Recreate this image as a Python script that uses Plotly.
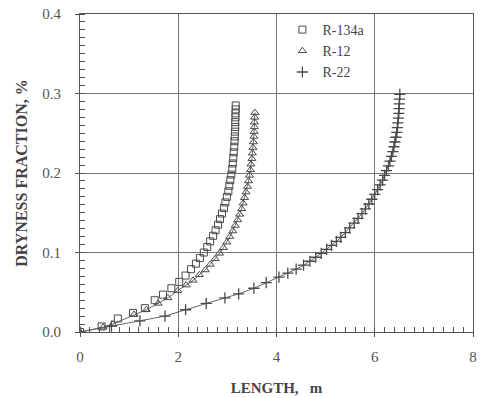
import plotly.graph_objects as go

r134a_x = [0.0, 0.44, 0.77, 1.08, 1.32, 1.52, 1.69, 1.86, 2.02, 2.15, 2.26, 2.36, 2.44, 2.52, 2.59, 2.65,
           2.71, 2.76, 2.81, 2.85, 2.89, 2.93, 2.96, 2.99, 3.02, 3.04, 3.06, 3.08, 3.10, 3.11, 3.12, 3.13,
           3.14, 3.145, 3.15, 3.155, 3.16, 3.16, 3.165, 3.165, 3.17, 3.17]
r134a_y = [0.000, 0.007, 0.017, 0.024, 0.030, 0.040, 0.047, 0.055, 0.063, 0.071, 0.079, 0.086, 0.093, 0.100,
           0.107, 0.114, 0.121, 0.128, 0.135, 0.142, 0.149, 0.156, 0.163, 0.170, 0.177, 0.184, 0.191, 0.198,
           0.205, 0.212, 0.219, 0.226, 0.233, 0.240, 0.246, 0.252, 0.258, 0.264, 0.270, 0.275, 0.280, 0.285]

r12_x = [0.0, 0.47, 0.67, 1.10, 1.35, 1.59, 1.79, 1.99, 2.16, 2.30, 2.43, 2.55, 2.65, 2.75, 2.84, 2.92,
         2.99, 3.05, 3.11, 3.16, 3.21, 3.25, 3.29, 3.32, 3.35, 3.38, 3.41, 3.43, 3.45, 3.47, 3.48, 3.50,
         3.51, 3.52, 3.53, 3.54, 3.545, 3.55, 3.55, 3.555, 3.56]
r12_y = [0.000, 0.006, 0.010, 0.022, 0.028, 0.036, 0.043, 0.052, 0.059, 0.065, 0.072, 0.078, 0.085, 0.092,
         0.099, 0.106, 0.113, 0.120, 0.127, 0.134, 0.141, 0.148, 0.155, 0.162, 0.169, 0.176, 0.183, 0.190,
         0.197, 0.204, 0.211, 0.218, 0.225, 0.232, 0.239, 0.246, 0.252, 0.258, 0.264, 0.270, 0.276]

r22_x = [0.0, 0.64, 1.22, 1.73, 2.15, 2.57, 2.95, 3.23, 3.54, 3.79, 4.05, 4.23, 4.40, 4.55, 4.68, 4.80,
         4.91, 5.02, 5.12, 5.22, 5.31, 5.40, 5.49, 5.58, 5.66, 5.74, 5.81, 5.88, 5.94, 6.00, 6.06, 6.11,
         6.16, 6.20, 6.24, 6.28, 6.31, 6.34, 6.37, 6.39, 6.41, 6.43, 6.45, 6.46, 6.47, 6.48, 6.49, 6.495,
         6.50, 6.505, 6.51]
r22_y = [0.000, 0.0075, 0.014, 0.020, 0.028, 0.036, 0.043, 0.048, 0.055, 0.062, 0.069, 0.074, 0.079, 0.084,
         0.089, 0.094, 0.099, 0.104, 0.109, 0.114, 0.119, 0.125, 0.131, 0.137, 0.143, 0.149, 0.155, 0.161,
         0.167, 0.173, 0.179, 0.185, 0.191, 0.197, 0.203, 0.209, 0.215, 0.221, 0.227, 0.233, 0.239, 0.245,
         0.251, 0.257, 0.263, 0.269, 0.275, 0.281, 0.287, 0.293, 0.299]

ink = "#4a4a4a"
serif = "Liberation Serif"

fig = go.Figure()
# thin connecting lines (no legend)
fig.add_trace(go.Scatter(x=r12_x, y=r12_y, mode="lines", line=dict(color="#666", width=1), showlegend=False, hoverinfo="skip"))
fig.add_trace(go.Scatter(x=r22_x, y=r22_y, mode="lines", line=dict(color="#666", width=1), showlegend=False, hoverinfo="skip"))

fig.add_trace(go.Scatter(x=r134a_x, y=r134a_y, mode="markers", name="R-134a",
                         marker=dict(symbol="square-open", size=7, color=ink, line=dict(width=1, color=ink))))
fig.add_trace(go.Scatter(x=r12_x, y=r12_y, mode="markers", name="R-12",
                         marker=dict(symbol="triangle-up-open", size=7, color=ink, line=dict(width=1, color=ink))))
fig.add_trace(go.Scatter(x=r22_x, y=r22_y, mode="markers", name="R-22",
                         marker=dict(symbol="cross-thin", size=8, color=ink, line=dict(width=1.3, color=ink))))

axis_common = dict(
    showline=True, linecolor="#555", linewidth=1, mirror=True,
    showgrid=True, gridcolor="#777", gridwidth=1,
    ticks="outside", ticklen=4, tickcolor="#555",
    tickfont=dict(family=serif, size=15, color="#555"),
    zeroline=False, automargin=False,
)

fig.update_xaxes(range=[0, 8], dtick=2, tick0=0, **axis_common, ticklabelstandoff=7,
                 minor=dict(ticks="inside", dtick=0.2, ticklen=5, tickcolor="#555", showgrid=False),
                 title=dict(text="<b>LENGTH,   m</b>", font=dict(family=serif, size=15, color="#444"), standoff=18))
fig.update_yaxes(range=[0, 0.4], dtick=0.1, tick0=0, tickformat=".1f", **axis_common, ticklabelstandoff=11,
                 minor=dict(ticks="inside", dtick=0.01, ticklen=5, tickcolor="#555", showgrid=False),
                 title=dict(text="<b>DRYNESS FRACTION, %</b>", font=dict(family=serif, size=16, color="#444"), standoff=10))

fig.update_layout(
    width=489, height=398,
    margin=dict(l=80, r=16, t=14, b=66),
    plot_bgcolor="white", paper_bgcolor="white",
    legend=dict(x=0.515, y=1.0, xanchor="left", yanchor="top", bgcolor="rgba(0,0,0,0)",
                font=dict(family=serif, size=14, color="#444"), tracegroupgap=0, itemsizing="trace"),
)

fig.write_html("out.html")
